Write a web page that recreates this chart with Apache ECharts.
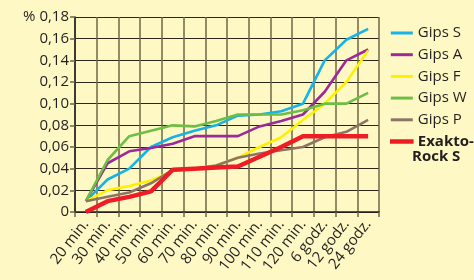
<!DOCTYPE html>
<html>
<head>
<meta charset="utf-8">
<script src="https://cdn.jsdelivr.net/npm/echarts@6/dist/echarts.min.js"></script>
<style>
  html, body { margin: 0; padding: 0; background: #fef9c4; }
  #chart { width: 474px; height: 280px; }
</style>
</head>
<body>
<div id="chart"></div>
<script>
// categories on the x axis
const categories = ['20 min.', '30 min.', '40 min.', '50 min.', '60 min.', '70 min.', '80 min.',
  '90 min.', '100 min.', '110 min.', '120 min.', '6 godz.', '12 godz.', '24 godz.'];

// y tick labels, bottom to top
const yTickLabels = ['0', '0,02', '0,04', '0,06', '0,08', '0,10', '0,12', '0,14', '0,16', '% 0,18'];

// values (%)
const gipsS = [0.01, 0.03, 0.04, 0.06, 0.069, 0.075, 0.08, 0.089, 0.09, 0.093, 0.10, 0.14, 0.159, 0.169];
const gipsA = [0.01, 0.045, 0.056, 0.059, 0.063, 0.07, 0.07, 0.07, 0.079, 0.084, 0.09, 0.111, 0.14, 0.15];
const gipsF = [0.01, 0.02, 0.024, 0.029, 0.038, 0.04, 0.043, 0.05, 0.06, 0.069, 0.085, 0.10, 0.12, 0.149];
const gipsW = [0.01, 0.048, 0.07, 0.075, 0.08, 0.079, 0.084, 0.09, 0.09, 0.09, 0.094, 0.10, 0.10, 0.11];
const gipsP = [0.01, 0.014, 0.018, 0.0265, 0.039, 0.04, 0.043, 0.05, 0.054, 0.057, 0.06, 0.069, 0.074, 0.085];
const exakto = [0, 0.01, 0.014, 0.019, 0.039, 0.04, 0.041, 0.042, 0.051, 0.06, 0.07, 0.07, 0.07, 0.07];

const seriesDefs = [
  { name: 'Gips S', data: gipsS, color: '#17b2e6', width: 2.6 },
  { name: 'Gips A', data: gipsA, color: '#9c2a98', width: 2.6 },
  { name: 'Gips F', data: gipsF, color: '#fff000', width: 2.6 },
  { name: 'Gips W', data: gipsW, color: '#6dbe45', width: 2.6 },
  { name: 'Gips P', data: gipsP, color: '#8d7566', width: 2.6 },
  { name: 'Exakto-Rock S', data: exakto, color: '#ee1c25', width: 4.5 },
];

const font = '"Open Sans", "Noto Sans", sans-serif';
const textColor = '#231f20';
const gridBrown = '#6f6447';

const chart = echarts.init(document.getElementById('chart'));

chart.setOption({
  backgroundColor: '#fef9c4',
  animation: false,
  grid: { left: 75, top: 17, right: 95, bottom: 68 },
  xAxis: {
    type: 'category',
    data: categories,
    boundaryGap: true,
    axisLine: { lineStyle: { color: textColor, width: 1.5 } },
    axisTick: { show: true, length: 5, lineStyle: { color: gridBrown, width: 1.5 } },
    splitLine: { show: true, lineStyle: { color: gridBrown, width: 1.5 } },
    axisLabel: {
      rotate: 52,
      margin: 9.5,
      interval: 0,
      color: textColor,
      fontSize: 15,
      fontFamily: font,
      // nudges the rotated labels a few px to the right
      padding: [8, 0, 0, 0],
    },
  },
  yAxis: {
    type: 'value',
    min: 0,
    max: 0.18,
    interval: 0.02,
    axisLine: { show: true, lineStyle: { color: textColor, width: 1.5 } },
    axisTick: { show: true, length: 5, lineStyle: { color: gridBrown, width: 1.5 } },
    splitLine: { show: true, lineStyle: { color: '#2b2618', width: 1.2 } },
    axisLabel: {
      margin: 6,
      color: textColor,
      fontSize: 15,
      fontFamily: font,
      formatter: (v, i) => yTickLabels[i],
    },
  },
  legend: {
    orient: 'vertical',
    left: 385,
    top: 19,
    icon: 'rect',
    itemWidth: 22,
    itemHeight: 3,
    itemGap: 3.7,
    textStyle: { color: textColor, fontSize: 15, lineHeight: 18, fontFamily: font },
    data: seriesDefs.map(s => s.name === 'Exakto-Rock S'
      ? { name: s.name, textStyle: { fontWeight: 'bold' },
          itemStyle: { borderColor: s.color, borderWidth: 1.6 } }
      : { name: s.name }),
    formatter: name => name === 'Exakto-Rock S' ? 'Exakto-' : name,
  },
  graphic: [
    {
      type: 'text',
      left: 412,
      top: 149,
      style: { text: 'Rock S', fill: textColor, fontSize: 15, fontWeight: 'bold', fontFamily: font },
    },
  ],
  series: seriesDefs.map(s => ({
    name: s.name,
    type: 'line',
    data: s.data,
    showSymbol: false,
    symbol: 'none',
    color: s.color,
    lineStyle: { color: s.color, width: s.width },
  })),
});
</script>
</body>
</html>
